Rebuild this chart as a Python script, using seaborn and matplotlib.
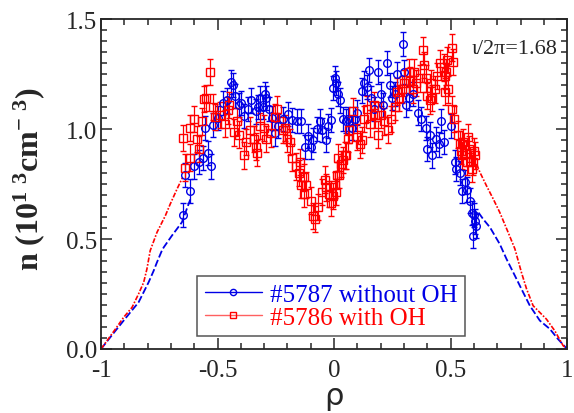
import numpy as np
import seaborn as sns
import matplotlib.pyplot as plt
from matplotlib.lines import Line2D
from matplotlib.ticker import MultipleLocator

# shot #5787 (without OH), interferometer points
rho_5787 = [-0.648, -0.638, -0.617, -0.600, -0.580, -0.562, -0.552, -0.540, -0.528, -0.520,
            -0.500, -0.477, -0.460, -0.443, -0.435, -0.424, -0.410, -0.400, -0.388, -0.370,
            -0.355, -0.337, -0.325, -0.317, -0.305, -0.298, -0.290, -0.280, -0.265, -0.253,
            -0.240, -0.220, -0.198, -0.180, -0.160, -0.140, -0.124, -0.110, -0.100, -0.090,
            -0.072, -0.060, -0.050, -0.035, -0.025, -0.015, -0.006, 0.002, 0.009, 0.015,
            0.026, 0.037, 0.050, 0.060, 0.075, 0.090, 0.100, 0.119, 0.130, 0.140,
            0.151, 0.160, 0.170, 0.190, 0.200, 0.210, 0.228, 0.240, 0.250, 0.260,
            0.270, 0.294, 0.300, 0.310, 0.320, 0.340, 0.361, 0.375, 0.394, 0.400,
            0.410, 0.420, 0.437, 0.450, 0.460, 0.470, 0.500, 0.518, 0.525, 0.540,
            0.550, 0.560, 0.570, 0.585, 0.590, 0.595, 0.600, 0.605, 0.610]
n_5787 = [0.61, 0.79, 0.72, 0.83, 0.85, 0.87, 1.005, 0.89, 0.83, 1.02,
          1.05, 1.12, 1.13, 1.215, 1.20, 1.15, 1.11, 1.12, 1.06, 1.09,
          1.13, 1.08, 1.10, 1.14, 1.10, 1.16, 1.14, 1.09, 1.05, 0.98,
          1.015, 1.045, 1.07, 1.04, 1.035, 1.035, 0.92, 0.97, 0.92, 0.95,
          1.00, 1.035, 0.995, 0.95, 1.015, 1.04, 1.185, 1.23, 1.21, 1.16,
          1.13, 1.045, 1.035, 1.045, 1.005, 1.045, 1.075, 1.175, 1.21, 1.19,
          1.27, 1.14, 1.09, 1.26, 1.16, 1.11, 1.30, 1.20, 1.14, 1.16,
          1.25, 1.386, 1.26, 1.11, 1.14, 1.16, 1.075, 1.045, 1.005, 0.91,
          0.975, 0.88, 0.955, 0.93, 1.035, 0.94, 1.015, 0.85, 0.82, 0.80,
          0.72, 0.76, 0.725, 0.675, 0.62, 0.515, 0.61, 0.58, 0.56]
err_5787 = 0.055

# shot #5786 (with OH)
rho_5786 = [-0.648, -0.640, -0.620, -0.617, -0.600, -0.590, -0.580, -0.565, -0.560, -0.550,
            -0.531, -0.520, -0.510, -0.490, -0.470, -0.455, -0.450, -0.430, -0.415, -0.410,
            -0.388, -0.380, -0.360, -0.345, -0.335, -0.330, -0.317, -0.300, -0.290, -0.270,
            -0.253, -0.245, -0.220, -0.210, -0.200, -0.190, -0.180, -0.165, -0.150, -0.145,
            -0.140, -0.130, -0.127, -0.120, -0.100, -0.089, -0.080, -0.070, -0.050, -0.040,
            -0.035, -0.020, -0.012, -0.005, 0.005, 0.008, 0.012, 0.018, 0.020, 0.030,
            0.040, 0.045, 0.050, 0.060, 0.065, 0.080, 0.100, 0.110, 0.120, 0.130,
            0.140, 0.155, 0.170, 0.175, 0.190, 0.200, 0.215, 0.230, 0.245, 0.260,
            0.270, 0.280, 0.290, 0.300, 0.320, 0.325, 0.340, 0.343, 0.350, 0.370,
            0.383, 0.387, 0.395, 0.400, 0.410, 0.415, 0.420, 0.435, 0.440, 0.455,
            0.470, 0.475, 0.478, 0.480, 0.485, 0.490, 0.504, 0.507, 0.510, 0.515,
            0.530, 0.540, 0.545, 0.550, 0.555, 0.565, 0.570, 0.575, 0.580, 0.590,
            0.595, 0.600, 0.605]
n_5786 = [0.96, 0.825, 0.87, 1.005, 1.045, 0.955, 0.91, 1.035, 1.136, 1.14,
          1.26, 1.10, 1.055, 1.065, 1.025, 1.085, 1.11, 0.985, 1.035, 0.975,
          0.88, 0.94, 0.995, 0.955, 0.92, 0.89, 1.015, 1.005, 0.955, 0.98,
          1.055, 1.09, 0.995, 1.005, 0.955, 0.94, 0.87, 0.83, 0.80, 0.85,
          0.745, 0.705, 0.78, 0.745, 0.675, 0.605, 0.59, 0.645, 0.715, 0.77,
          0.735, 0.705, 0.665, 0.695, 0.745, 0.715, 0.79, 0.87, 0.79, 0.84,
          0.86, 0.88, 0.88, 0.955, 0.995, 1.08, 0.965, 0.93, 0.95, 1.045,
          1.09, 1.025, 1.11, 1.065, 0.975, 1.065, 1.035, 0.995, 1.045, 1.10,
          1.17, 1.14, 1.18, 1.21, 1.26, 1.22, 1.18, 1.26, 1.21, 1.23,
          1.357, 1.29, 1.23, 1.15, 1.13, 1.21, 1.14, 1.18, 1.24, 1.30,
          1.28, 1.24, 1.17, 1.26, 1.315, 1.18, 1.37, 1.09, 1.305, 1.045,
          0.975, 0.93, 0.90, 0.88, 0.94, 0.89, 0.85, 0.965, 0.91, 0.82,
          0.85, 0.90, 0.88]
err_5786 = 0.06

# edge profiles (dashed parts)
edge_left_rho_5787 = [-1.0, -0.938, -0.903, -0.874, -0.839, -0.796, -0.774, -0.760, -0.739, -0.731, -0.696, -0.653, -0.617]
edge_left_n_5787 = [0.0, 0.083, 0.129, 0.167, 0.212, 0.303, 0.356, 0.394, 0.447, 0.462, 0.515, 0.576, 0.68]
edge_right_rho_5787 = [0.62, 0.64, 0.669, 0.711, 0.740, 0.776, 0.804, 0.840, 0.883, 0.926, 0.961, 1.0]
edge_right_n_5787 = [0.62, 0.59, 0.553, 0.477, 0.409, 0.333, 0.273, 0.197, 0.129, 0.091, 0.045, 0.0]
edge_left_rho_5786 = [-1.0, -0.938, -0.903, -0.867, -0.839, -0.817, -0.803, -0.789, -0.760, -0.724, -0.703, -0.674, -0.650]
edge_left_n_5786 = [0.0, 0.091, 0.144, 0.189, 0.250, 0.303, 0.364, 0.447, 0.530, 0.606, 0.659, 0.727, 0.78]
edge_right_rho_5786 = [0.612, 0.626, 0.654, 0.683, 0.711, 0.747, 0.776, 0.804, 0.826, 0.854, 0.911, 0.947, 0.983, 1.0]
edge_right_n_5786 = [0.84, 0.803, 0.742, 0.682, 0.621, 0.530, 0.455, 0.348, 0.273, 0.197, 0.136, 0.083, 0.015, 0.0]

blue = "#0000e6"
red = "#ff0000"

sns.set_style("ticks")
plt.rcParams["font.family"] = ["Liberation Serif", "DejaVu Serif"]
plt.rcParams["mathtext.default"] = "regular"

fig = plt.figure(figsize=(5.74, 4.14), dpi=100)
ax = fig.add_axes([0.176, 0.1546, 0.812, 0.797])

# dashed edges
for r, n in [(edge_left_rho_5787, edge_left_n_5787), (edge_right_rho_5787, edge_right_n_5787)]:
    sns.lineplot(x=r, y=n, ax=ax, color=blue, lw=1.3, linestyle=(0, (4, 1.5)),
                 estimator=None, sort=False)
for r, n in [(edge_left_rho_5786, edge_left_n_5786), (edge_right_rho_5786, edge_right_n_5786)]:
    sns.lineplot(x=r, y=n, ax=ax, color=red, lw=1.2, linestyle=(0, (3, 1, 1, 1)),
                 estimator=None, sort=False)

# measured points with error bars
ax.errorbar(rho_5787, n_5787, yerr=err_5787, fmt="o", color=blue, mfc="none", mec=blue,
            ms=5.5, mew=1.0, elinewidth=0.9, capsize=2.5, capthick=0.9)
ax.errorbar(rho_5786, n_5786, yerr=err_5786, fmt="s", color=red, mfc="none", mec=red,
            ms=5.5, mew=1.0, elinewidth=0.9, capsize=2.5, capthick=0.9)

ax.set_xlim(-1, 1)
ax.set_ylim(0, 1.5)
ax.xaxis.set_minor_locator(MultipleLocator(0.1))
ax.yaxis.set_minor_locator(MultipleLocator(0.05))
ax.set_xticks([-1, -0.5, 0, 0.5, 1])
ax.set_xticklabels(["-1", "-0.5", "0", "0.5", "1"])
ax.set_yticks([0, 0.5, 1.0, 1.5])
ax.set_yticklabels(["0.0", "0.5", "1.0", "1.5"])
ax.tick_params(which="both", direction="in", top=True, right=True, labelsize=18, width=1.1)
ax.tick_params(axis="x", which="major", length=8, pad=7)
ax.tick_params(axis="y", which="major", length=8, pad=3)
ax.tick_params(which="minor", length=4)
for s in ax.spines.values():
    s.set_linewidth(1.3)

ax.set_xlabel("ρ", family="DejaVu Sans", fontsize=22, labelpad=0)
ax.set_ylabel(r"n (10$^{1\ 3}$cm$^{-\ 3}$)", fontsize=23, fontweight="bold")
ax.yaxis.set_label_coords(-0.116, 0.518)

ax.text(0.98, 0.91, "ι/2π=1.68", transform=ax.transAxes, ha="right", va="center", fontsize=16)

handles = [Line2D([], [], color=blue, marker="o", mfc="none", ms=4.5, lw=1.0),
           Line2D([], [], color="#ff6060", marker="s", mfc="none", mec=red, ms=4.5, lw=1.0)]
leg = ax.legend(handles, ["#5787 without OH", "#5786 with OH"], loc="lower left",
                bbox_to_anchor=(0.206, 0.039), borderaxespad=0, fontsize=18,
                handlelength=2.3, handletextpad=0.3, labelspacing=0.0, borderpad=0.3,
                fancybox=False, framealpha=1)
leg.get_frame().set_edgecolor("#555555")
leg.get_frame().set_linewidth(1.1)
for t, c in zip(leg.get_texts(), [blue, red]):
    t.set_color(c)

fig.savefig("out.png", dpi=100)
